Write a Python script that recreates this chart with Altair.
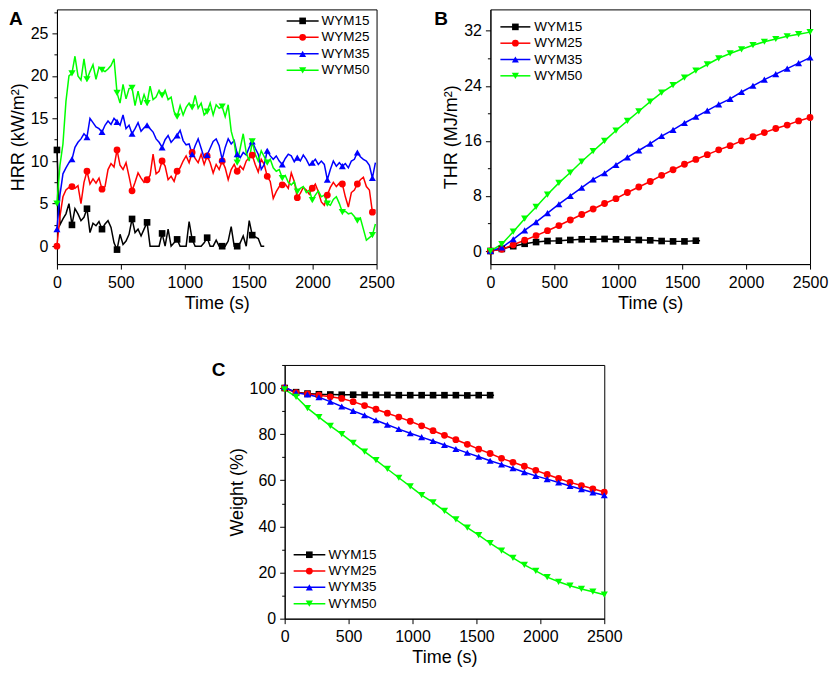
import altair as alt
import pandas as pd

FONT = "Liberation Sans"
SERIES = ["WYM15", "WYM25", "WYM35", "WYM50"]
COLORS = ["#000000", "#ff0000", "#0000ff", "#00ff00"]
SHAPES = ["square", "circle", "triangle-up", "triangle-down"]
SIZES = [44, 52, 66, 66]

# ---------------- Panel A: HRR (kW/m2), sampled every 23.5 s, marker on every 5th sample
A_STEP = 23.5
A_WYM15 = [11.3, 2.5, 3.2, 3.8, 5.0, 2.5, 4.4, 3.8, 3.0, 3.4,
           4.4, 1.6, 2.7, 2.4, 2.9, 2.0, 2.6, 3.0, 2.2, 0.4,
           -0.4, 1.4, 0.2, 0.6, 1.4, 3.2, 1.6, 2.0, 1.2, 2.0,
           2.8, 0.0, 0.0, 0.0, 0.0, 1.5, 0.0, 2.0, 0.0, 0.4,
           0.8, 0.0, 0.0, 0.0, 2.9, 0.8, 0.0, 0.0, 0.0, 0.4,
           1.0, 0.0, 0.0, 0.7, 0.0, 0.0, 0.0, 0.6, 2.3, 0.0,
           0.0, 0.4, 1.2, 0.0, 3.0, 1.3, 1.1, 0.9, 0.0, 0.0]
A_WYM25 = [0.0, 3.5, 5.8, 6.6, 6.9, 7.0, 6.8, 7.1, 5.0, 7.5,
           8.8, 7.3, 7.9, 7.4, 8.0, 6.7, 7.0, 9.0, 9.7, 9.3,
           11.3, 9.5, 9.0, 9.8, 8.2, 6.5, 7.5, 8.6, 8.0, 7.5,
           7.8, 8.3, 10.8, 8.5, 8.8, 10.0, 9.4, 7.8, 8.2, 7.6,
           8.8, 9.2, 10.0, 10.6, 9.8, 11.0, 10.3, 9.8, 10.8, 9.6,
           10.6, 9.8, 8.6, 9.6, 9.0, 10.0, 9.2, 7.8, 9.0, 9.6,
           8.8, 9.4, 9.0, 10.0, 10.4, 10.7, 9.6, 8.7, 10.2, 9.6,
           8.2, 7.6, 5.6, 6.4, 7.0, 7.2, 7.3, 6.8, 8.6, 7.6,
           5.7, 6.2, 6.9, 6.6, 6.1, 6.8, 7.3, 6.4, 5.2, 4.8,
           6.0, 6.9, 7.5, 7.0, 7.4, 7.3, 5.8, 4.6, 6.3, 6.6,
           7.3, 7.8, 8.1, 7.0, 6.6, 4.0, 4.3]
A_WYM35 = [2.0, 6.0, 8.5, 9.2, 9.8, 10.2, 11.6, 12.2, 12.6, 13.2,
           12.8, 15.0, 14.5, 14.0, 13.8, 13.4, 14.2, 14.7, 14.3, 15.0,
           14.6, 14.2, 15.4, 13.8, 14.2, 13.2, 13.8, 14.5, 13.5, 13.9,
           14.2, 13.8, 13.4, 12.6, 12.2, 11.6, 12.5, 13.0, 12.2, 12.6,
           13.0, 13.6, 12.4, 11.9, 12.0, 10.8, 11.8, 12.6, 11.5, 10.4,
           10.7, 11.5, 12.3, 12.6, 11.8, 10.2, 11.6, 12.6, 12.0, 12.4,
           10.8, 10.4, 11.0, 10.7, 11.6, 12.3, 11.5, 10.8, 9.0, 9.6,
           11.2, 10.6, 10.2, 10.6, 10.0, 9.6, 10.3, 10.8, 10.6, 9.9,
           10.4, 10.0, 10.7, 10.2, 9.5, 9.8, 10.2, 9.6, 10.0, 9.6,
           7.8, 9.0, 10.0, 9.4, 9.8, 9.4, 9.7, 9.2, 10.0, 10.2,
           11.0, 10.5, 10.2, 10.0, 9.5, 8.0, 9.8]
A_WYM50 = [5.0, 9.5, 12.0, 17.0, 20.0, 20.3, 22.3, 20.0, 19.5, 22.0,
           19.6, 20.5, 21.3, 19.6, 21.0, 20.7, 20.5, 20.8, 21.2, 22.0,
           18.0, 16.8, 19.0, 17.3, 18.5, 18.6, 16.5, 18.2, 16.6, 17.8,
           16.8, 18.8, 17.2, 17.5, 18.3, 17.7, 18.3, 17.2, 17.5, 15.8,
           15.2, 16.5, 15.4, 16.3, 16.8, 16.3, 17.7, 16.2, 16.8, 15.4,
           15.8, 16.8, 15.4, 16.6, 16.2, 16.4, 15.2, 16.6, 13.5, 12.2,
           9.8, 11.5, 13.2, 11.0, 10.0, 12.3, 10.8, 10.0, 11.2, 10.5,
           9.8, 10.2, 9.2, 8.8, 9.0, 8.0, 8.3, 7.5, 7.2, 7.6,
           6.4, 6.8, 7.0, 6.3, 6.6, 5.4, 6.0, 6.5, 5.8, 6.0,
           5.0, 4.8, 5.5, 5.8, 5.0, 4.0, 4.1, 3.8, 3.9, 3.5,
           3.0, 3.3, 2.0, 0.7, 1.0, 1.3, 2.6]

# ---------------- Panels B and C: values at the marker positions (every 2500/28 s)
BC_STEP = 2500 / 28
B_WYM15 = [0.0, 0.3, 0.7, 1.05, 1.3, 1.45, 1.5, 1.6, 1.7, 1.7,
           1.75, 1.7, 1.65, 1.6, 1.55, 1.45, 1.4, 1.4, 1.5]
B_WYM15_END = (1640, 1.5)
B_WYM25 = [0.0, 0.24, 0.9, 1.57, 2.24, 2.95, 3.7, 4.5, 5.3, 6.1,
           6.9, 7.6, 8.5, 9.3, 10.1, 11.0, 11.8, 12.6, 13.3, 14.0,
           14.7, 15.3, 16.0, 16.6, 17.2, 17.8, 18.3, 18.9, 19.4]
B_WYM35 = [0.0, 0.5, 1.7, 3.0, 4.2, 5.5, 6.8, 8.0, 9.2, 10.4,
           11.3, 12.5, 13.6, 14.6, 15.6, 16.7, 17.6, 18.6, 19.5, 20.4,
           21.3, 22.1, 23.1, 24.0, 24.9, 25.7, 26.5, 27.3, 28.1]
B_WYM50 = [0.0, 1.0, 2.8, 4.7, 6.4, 8.2, 9.9, 11.4, 13.0, 14.5,
           16.0, 17.5, 18.9, 20.3, 21.7, 23.0, 24.1, 25.2, 26.2, 27.1,
           28.0, 28.7, 29.3, 29.9, 30.4, 30.8, 31.2, 31.5, 31.8]

C_WYM15 = [100.0, 98.2, 97.6, 97.3, 97.2, 97.1, 97.1, 97.0, 97.0, 97.0,
           96.9, 96.9, 96.9, 96.9, 96.9, 96.9, 96.8, 96.9, 96.9]
C_WYM15_END = (1638, 96.9)
C_WYM25 = [100.0, 98.0, 97.5, 96.9, 96.2, 95.5, 94.1, 92.4, 90.8, 89.1,
           87.4, 85.6, 83.6, 81.5, 79.5, 77.6, 75.6, 73.5, 71.6, 69.5,
           67.8, 66.1, 64.3, 62.5, 60.8, 59.1, 57.7, 56.3, 54.9]
C_WYM35 = [100.5, 97.9, 97.2, 96.0, 94.1, 92.0, 90.1, 88.2, 86.0, 84.1,
           82.2, 80.4, 78.7, 77.0, 75.3, 73.6, 71.9, 70.2, 68.5, 66.9,
           65.2, 63.5, 61.9, 60.5, 59.0, 57.5, 56.1, 54.7, 53.5]
C_WYM50 = [99.4, 96.2, 91.3, 87.4, 83.6, 80.0, 76.2, 72.4, 68.7, 64.9,
           61.1, 57.4, 53.6, 50.4, 46.7, 43.0, 39.5, 36.2, 32.7, 29.5,
           26.4, 23.3, 20.7, 18.0, 16.0, 14.3, 12.9, 11.7, 10.4]

X_TICKS = list(range(0, 2501, 250))

# ---------------- layout (pixels)
W = 320
H_TOP = 255
H_C = 254
ROW_SPACING = 47
COL_SPACING = 114
SPACER_W = 218
SPACER_GAP = 10


def build_df(series_values, step, every, ends=None):
    rows = []
    for name, vals in zip(SERIES, series_values):
        for i, v in enumerate(vals):
            rows.append({"series": name, "t": i * step, "v": v, "marker": i % every == 0})
        if ends and name in ends:
            t_end, v_end = ends[name]
            rows.append({"series": name, "t": t_end, "v": v_end, "marker": False})
    return pd.DataFrame(rows)


df_a = build_df([A_WYM15, A_WYM25, A_WYM35, A_WYM50], A_STEP, 5)
df_b = build_df([B_WYM15, B_WYM25, B_WYM35, B_WYM50], BC_STEP, 1, {"WYM15": B_WYM15_END})
df_c = build_df([C_WYM15, C_WYM25, C_WYM35, C_WYM50], BC_STEP, 1, {"WYM15": C_WYM15_END})
legend_df = pd.DataFrame({"series": SERIES})

color = alt.Color("series:N", scale=alt.Scale(domain=SERIES, range=COLORS), legend=None)
shape = alt.Shape("series:N", scale=alt.Scale(domain=SERIES, range=SHAPES), legend=None)
size = alt.Size("series:N", scale=alt.Scale(domain=SERIES, range=SIZES), legend=None)


def is_major(major):
    return f"datum.value % {major} === 0"


def tick_len(major):
    return {"condition": {"test": is_major(major), "value": 5}, "value": 3}


def label_size(major):
    return {"condition": {"test": is_major(major), "value": 16}, "value": 0}


def label_only(major):
    return f"{is_major(major)} ? datum.label : ''"


def panel(df, ydom, yticks, ymajor, ytitle, height, letter, letter_x, letter_y, leg):
    xscale = alt.Scale(domain=[0, 2500], nice=False, zero=False)
    yscale = alt.Scale(domain=ydom, nice=False, zero=False)
    xaxis = alt.Axis(title="Time (s)", values=X_TICKS, format="d",
                     labelExpr=label_only(500), tickSize=tick_len(500),
                     labelFontSize=label_size(500),
                     labelPadding=5, titlePadding=4)
    yaxis = alt.Axis(title=ytitle, values=yticks, format="d",
                     labelExpr=label_only(ymajor), tickSize=tick_len(ymajor),
                     labelFontSize=label_size(ymajor),
                     labelPadding=4, titlePadding=3)
    base = alt.Chart(df)
    lines = base.mark_line(strokeWidth=1.5).encode(
        x=alt.X("t:Q", scale=xscale, axis=xaxis),
        y=alt.Y("v:Q", scale=yscale, axis=yaxis),
        color=color,
    )
    pts = base.transform_filter("datum.marker").mark_point(filled=True, opacity=1).encode(
        x=alt.X("t:Q", scale=xscale),
        y=alt.Y("v:Q", scale=yscale, axis=None),
        color=color, shape=shape, size=size,
    )
    ly = alt.Y("series:N", scale=alt.Scale(type="point", domain=SERIES,
                                            range=[leg["y0"], leg["y1"]], padding=0),
               axis=None)
    lbase = alt.Chart(legend_df)
    lrule = lbase.mark_rule(strokeWidth=1.5).encode(
        x=alt.value(leg["x0"]), x2=alt.value(leg["x1"]), y=ly, color=color)
    lpt = lbase.mark_point(filled=True, opacity=1).encode(
        x=alt.value(leg["xm"]), y=ly, color=color, shape=shape, size=size)
    ltxt = lbase.mark_text(align="left", baseline="middle", font=FONT,
                           fontSize=13.5, color="black").encode(
        x=alt.value(leg["xt"]), y=ly, text="series:N")
    let = alt.Chart(pd.DataFrame({"label": [letter]})).mark_text(
        align="left", baseline="alphabetic", font=FONT, fontSize=19,
        fontWeight="bold", color="black").encode(
        x=alt.value(letter_x), y=alt.value(letter_y), text="label:N")
    return alt.layer(lines, pts, lrule, lpt, ltxt, let).resolve_scale(
        y="independent").properties(width=W, height=height)


pa = panel(df_a, [-2.1, 27.8], [v * 2.5 for v in range(0, 12)], 5, "HRR (kW/m²)", H_TOP,
           "A", -48, 15.5,
           {"y0": 11.5, "y1": 61, "x0": 230, "x1": 262, "xm": 246, "xt": 265})
pb = panel(df_b, [-1.9, 35.1], list(range(0, 33, 4)), 8, "THR (MJ/m²)", H_TOP,
           "B", -56.3, 15.5,
           {"y0": 17.5, "y1": 66.5, "x0": 10, "x1": 40, "xm": 25, "xt": 44})
pc = panel(df_c, [0, 110], list(range(0, 111, 10)), 20, "Weight (%)", H_C,
           "C", -73, 11.3,
           {"y0": H_C - 64, "y1": H_C - 15, "x0": 9, "x1": 40.7, "xm": 24.7, "xt": 44})

spacer = alt.Chart(pd.DataFrame({"a": [0]})).mark_point(opacity=0, size=1).encode(
    x=alt.value(0), y=alt.value(0)).properties(
    width=SPACER_W, height=H_C, view=alt.ViewBackground(stroke="transparent"))

top_row = alt.hconcat(pa, pb, spacing=COL_SPACING, bounds="flush")
bottom_row = alt.hconcat(spacer, pc, spacing=SPACER_GAP, bounds="flush")

chart = alt.vconcat(top_row, bottom_row, spacing=ROW_SPACING).properties(
    padding={"left": 0, "top": 0, "right": 0, "bottom": 0}
).configure_view(stroke="black", strokeWidth=1).configure_axis(
    grid=False, labelFont=FONT, labelFontSize=16, labelColor="black",
    titleFont=FONT, titleFontSize=18, titleFontWeight="normal", titleColor="black",
    tickColor="black", domainColor="black", tickWidth=1, domainWidth=1,
    labelFlush=False, labelOverlap=False
)

chart.save("out.html", embed_options={"renderer": "svg", "actions": False})
